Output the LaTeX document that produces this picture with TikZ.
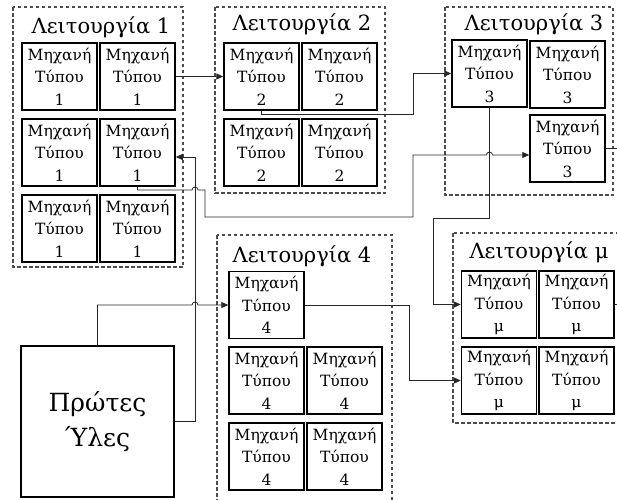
\documentclass[tikz,border=0pt]{standalone}
\usepackage{fontspec}
\setmainfont{DejaVu Serif}
\usepackage{tikz}
\usetikzlibrary{arrows.meta,calc}

\tikzset{
  mach/.style={draw,line width=1.5pt,minimum width=75pt,minimum height=67pt,inner sep=0pt,
    align=center,font=\fontsize{15.5}{22.5}\selectfont},
  grp/.style={draw=black!70,line width=1.4pt,dash pattern=on 3.5pt off 2.5pt},
  ttl/.style={anchor=base,font=\fontsize{21}{24}\selectfont},
  wire/.style={line width=0.8pt,black!85},
  feed/.style={wire,-{Triangle[length=7pt,width=6pt]}},
}

\begin{document}
\begin{tikzpicture}[x=1pt,y=1pt]
\useasboundingbox (0,0) rectangle (617,-499);
% operation frames
\draw[grp] (13,-7) rectangle (183,-267);
\draw[grp] (215,-7) rectangle (385,-193);
\draw[grp] (445,-7) rectangle (613,-195);
\draw[grp] (217,-235) rectangle (392,-505);
\draw[grp] (453,-233) rectangle (625,-423);
\node[ttl] (t1) at (101,-33) {Λειτουργία 1};
\node[ttl] (t2) at (302,-30) {Λειτουργία 2};
\node[ttl] (t3) at (534,-30) {Λειτουργία 3};
\node[ttl] (t4) at (302,-262) {Λειτουργία 4};
\node[ttl] (tm) at (539,-258) {Λειτουργία μ};
% machines
\foreach \n/\x/\y/\k in {g1a/59.5/76.5/1,g1b/137.5/76.5/1,g1c/59.5/152.5/1,g1d/137.5/152.5/1,
    g1e/59.5/228.5/1,g1f/137.5/228.5/1,
    g2a/261.5/76.5/2,g2b/339.5/76.5/2,g2c/261.5/152.5/2,g2d/339.5/152.5/2,
    g3a/489.5/73.5/3,g3b/567.5/74.5/3,g3d/567.5/148.5/3,
    g4a/266.5/305/4,g4c/266.5/380.5/4,g4d/344.5/380.5/4,g4e/266.5/456.5/4,g4f/344.5/456.5/4,
    gma/499/304.5/μ,gmb/576.5/304.5/μ,gmc/499/380.5/μ,gmd/576.5/380.5/μ}
  \node[mach] (\n) at (\x,-\y) {Μηχανή\\Τύπου\\\k};
% raw materials
\node[draw,line width=2.5pt,minimum width=153pt,minimum height=151pt,align=center,
  font=\fontsize{25}{35}\selectfont] (pu) at (97.5,-421.5) {Πρώτες\\Ύλες};
% flows
\coordinate (c3h) at (486.5,-155);
\coordinate (c4t) at (195,-157);
\draw[feed] (g1b.east) -- (g2a.west);
\draw[feed] (g2a.south) |- (413,-114) |- (g3a.west);
\draw[feed] (g1d.south) |- (192,-190) arc[start angle=180,end angle=0,radius=3]
  -| (205,-217) -| (413,-155) -- (c3h) arc[start angle=180,end angle=0,radius=3]
  -- (g3d.west |- c3h);
\draw[feed] (pu.east) -| (c4t) -- (g1d.east |- c4t);
\draw[feed] (pu.north) |- (192,-305) arc[start angle=180,end angle=0,radius=3] -- (g4a.west);
\draw[feed] (g3a.south) |- (433,-218) |- (gma.west);
\draw[feed] (g4a.east) -- (409,-305) |- (gmc.west);
\draw[wire] (g3d.east) -- ++(14,0);
\draw[wire] (gmb.east) -- ++(6,0);
\end{tikzpicture}
\end{document}
